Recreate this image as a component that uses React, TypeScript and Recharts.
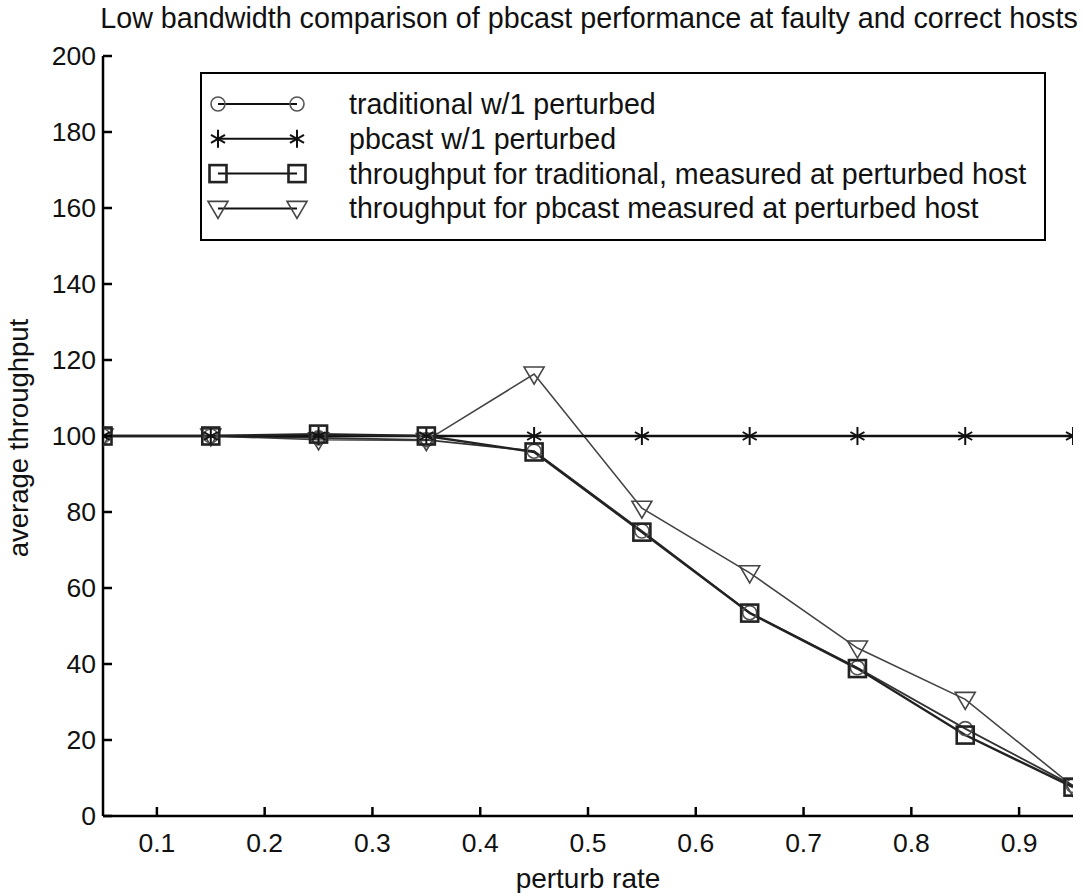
import { Legend, Line, LineChart, XAxis, YAxis } from 'recharts';

const FONT = '"Liberation Sans", Arial, sans-serif';

const perturbRates = [0.05, 0.15, 0.25, 0.35, 0.45, 0.55, 0.65, 0.75, 0.85, 0.95];
const traditionalThroughput = [100, 100, 99.5, 99, 96, 75, 53.5, 39, 23, 8];
const pbcastThroughput = [100, 100, 100, 100, 100, 100, 100, 100, 100, 100];
const traditionalAtPerturbed = [100, 100, 100.5, 100, 95.8, 74.7, 53.4, 38.8, 21.3, 7.6];
const pbcastAtPerturbed = [100, 100, 99, 98.8, 116.3, 81, 64, 44.2, 30.7, 7.8];

const xTicks = [0.1, 0.2, 0.3, 0.4, 0.5, 0.6, 0.7, 0.8, 0.9];
const yTicks = [0, 20, 40, 60, 80, 100, 120, 140, 160, 180, 200];

const legendLabels = [
  'traditional w/1 perturbed',
  'pbcast w/1 perturbed',
  'throughput for traditional, measured at perturbed host',
  'throughput for pbcast measured at perturbed host',
];

const data = perturbRates.map((x, i) => ({
  x,
  traditional: traditionalThroughput[i],
  pbcast: pbcastThroughput[i],
  tradPerturbed: traditionalAtPerturbed[i],
  pbcastPerturbed: pbcastAtPerturbed[i],
}));

// marker shapes (matlab style: o, *, square, v)
function CircleMark({ cx, cy }: { cx: number; cy: number }) {
  return <circle cx={cx} cy={cy} r={7} fill='none' stroke='#555' strokeWidth={1.6} />;
}

function StarMark({ cx, cy }: { cx: number; cy: number }) {
  return (
    <g stroke='#111' strokeWidth={2}>
      <line x1={cx} y1={cy - 9} x2={cx} y2={cy + 9} />
      <line x1={cx - 7} y1={cy - 4} x2={cx + 7} y2={cy + 4} />
      <line x1={cx - 7} y1={cy + 4} x2={cx + 7} y2={cy - 4} />
    </g>
  );
}

function SquareMark({ cx, cy }: { cx: number; cy: number }) {
  return (
    <rect x={cx - 8.5} y={cy - 8.5} width={17} height={17} fill='none' stroke='#222' strokeWidth={2.6} />
  );
}

function TriangleMark({ cx, cy }: { cx: number; cy: number }) {
  return (
    <polygon
      points={`${cx - 10},${cy - 7} ${cx + 10},${cy - 7} ${cx},${cy + 10}`}
      fill='none'
      stroke='#444'
      strokeWidth={1.6}
    />
  );
}

const MARKS = [CircleMark, StarMark, SquareMark, TriangleMark];

const dotOf = (Mark: typeof CircleMark) => (p: any) =>
  <Mark key={`m-${p.index}`} cx={p.cx} cy={p.cy} />;

// inward ticks, labels outside
const BottomTick = (p: any) => (
  <g>
    <line x1={p.x} y1={p.y} x2={p.x} y2={p.y - 9} stroke='#000' strokeWidth={2.5} />
    <text x={p.x} y={p.y + 36} textAnchor='middle' fontSize={26.5} fontFamily={FONT} fill='#111'>
      {p.payload.value}
    </text>
  </g>
);

const LeftTick = (p: any) => (
  <g>
    <line x1={p.x} y1={p.y} x2={p.x + 9} y2={p.y} stroke='#000' strokeWidth={2.5} />
    <text
      x={p.x - 7}
      y={p.y + 9}
      textAnchor='end'
      fontSize={26.5}
      fontFamily={FONT}
      fill='#111'>
      {p.payload.value}
    </text>
  </g>
);

const TopTick = (p: any) => (
  <line x1={p.x} y1={p.y} x2={p.x} y2={p.y + 9} stroke='#000' strokeWidth={2.5} />
);

const RightTick = (p: any) => (
  <line x1={p.x} y1={p.y} x2={p.x - 9} y2={p.y} stroke='#000' strokeWidth={2.5} />
);

function LegendBox() {
  return (
    <div
      style={{
        width: 846,
        height: 169,
        boxSizing: 'border-box',
        border: '2.5px solid #000',
        background: '#fff',
      }}>
      <svg width={842} height={165}>
        {legendLabels.map((label, i) => {
          const Mark = MARKS[i];
          const cy = 30 + i * 34.8;
          return (
            <g key={label}>
              <line x1={16} y1={cy} x2={95} y2={cy} stroke='#111' strokeWidth={2} />
              <Mark cx={16} cy={cy} />
              <Mark cx={95} cy={cy} />
              <text x={147} y={cy + 10} fontSize={28.6} fontFamily={FONT} fill='#111'>
                {label}
              </text>
            </g>
          );
        })}
      </svg>
    </div>
  );
}

const axisLine = { stroke: '#000', strokeWidth: 2.5 };

export default function App() {
  return (
    <div style={{ position: 'absolute', left: 0, top: 0, width: 1084, height: 893, background: '#fff' }}>
      <div
        style={{
          position: 'absolute',
          left: 89,
          width: 1000,
          top: 2,
          textAlign: 'center',
          fontFamily: FONT,
          fontSize: 28.7,
          color: '#111',
          whiteSpace: 'nowrap',
        }}>
        Low bandwidth comparison of pbcast performance at faulty and correct hosts
      </div>
      <LineChart
        width={1084}
        height={893}
        data={data}
        margin={{ top: 56, right: 11, left: 43, bottom: 7 }}>
        <XAxis
          dataKey='x'
          type='number'
          domain={[0.05, 0.95]}
          ticks={xTicks}
          allowDataOverflow
          height={70}
          tickSize={0}
          tickMargin={0}
          tickLine={false}
          axisLine={axisLine}
          tick={BottomTick}
          interval={0}
          label={{
            value: 'perturb rate',
            position: 'insideBottom',
            offset: -2,
            style: { fontSize: 28, fontFamily: FONT, fill: '#111' },
          }}
        />
        <XAxis
          xAxisId='top'
          dataKey='x'
          type='number'
          orientation='top'
          domain={[0.05, 0.95]}
          ticks={xTicks}
          allowDataOverflow
          height={0}
          tickSize={0}
          tickMargin={0}
          tickLine={false}
          axisLine={axisLine}
          tick={TopTick}
          interval={0}
        />
        <YAxis
          type='number'
          domain={[0, 200]}
          ticks={yTicks}
          width={60}
          tickSize={0}
          tickMargin={0}
          tickLine={false}
          axisLine={axisLine}
          tick={LeftTick}
          interval={0}
          label={{
            value: 'average throughput',
            content: () => (
              <text
                x={28}
                y={438}
                transform='rotate(-90 28 438)'
                textAnchor='middle'
                fontSize={27.5}
                fontFamily={FONT}
                fill='#111'>
                average throughput
              </text>
            ),
          }}
        />
        <YAxis
          yAxisId='right'
          orientation='right'
          type='number'
          domain={[0, 200]}
          ticks={yTicks}
          width={0}
          tickSize={0}
          tickMargin={0}
          tickLine={false}
          axisLine={axisLine}
          tick={RightTick}
          interval={0}
        />
        <Legend
          layout='horizontal'
          verticalAlign='middle'
          align='center'
          wrapperStyle={{ left: 200, top: 72, width: 846, height: 169 }}
          content={() => <LegendBox />}
        />
        <Line
          dataKey='pbcastPerturbed'
          name={legendLabels[3]}
          stroke='#444'
          strokeWidth={1.6}
          dot={dotOf(TriangleMark)}
          activeDot={false}
          isAnimationActive={false}
        />
        <Line
          dataKey='traditional'
          name={legendLabels[0]}
          stroke='#333'
          strokeWidth={1.8}
          dot={dotOf(CircleMark)}
          activeDot={false}
          isAnimationActive={false}
        />
        <Line
          dataKey='pbcast'
          name={legendLabels[1]}
          stroke='#111'
          strokeWidth={2.5}
          dot={dotOf(StarMark)}
          activeDot={false}
          isAnimationActive={false}
        />
        <Line
          dataKey='tradPerturbed'
          name={legendLabels[2]}
          stroke='#222'
          strokeWidth={2.4}
          dot={dotOf(SquareMark)}
          activeDot={false}
          isAnimationActive={false}
        />
      </LineChart>
    </div>
  );
}
